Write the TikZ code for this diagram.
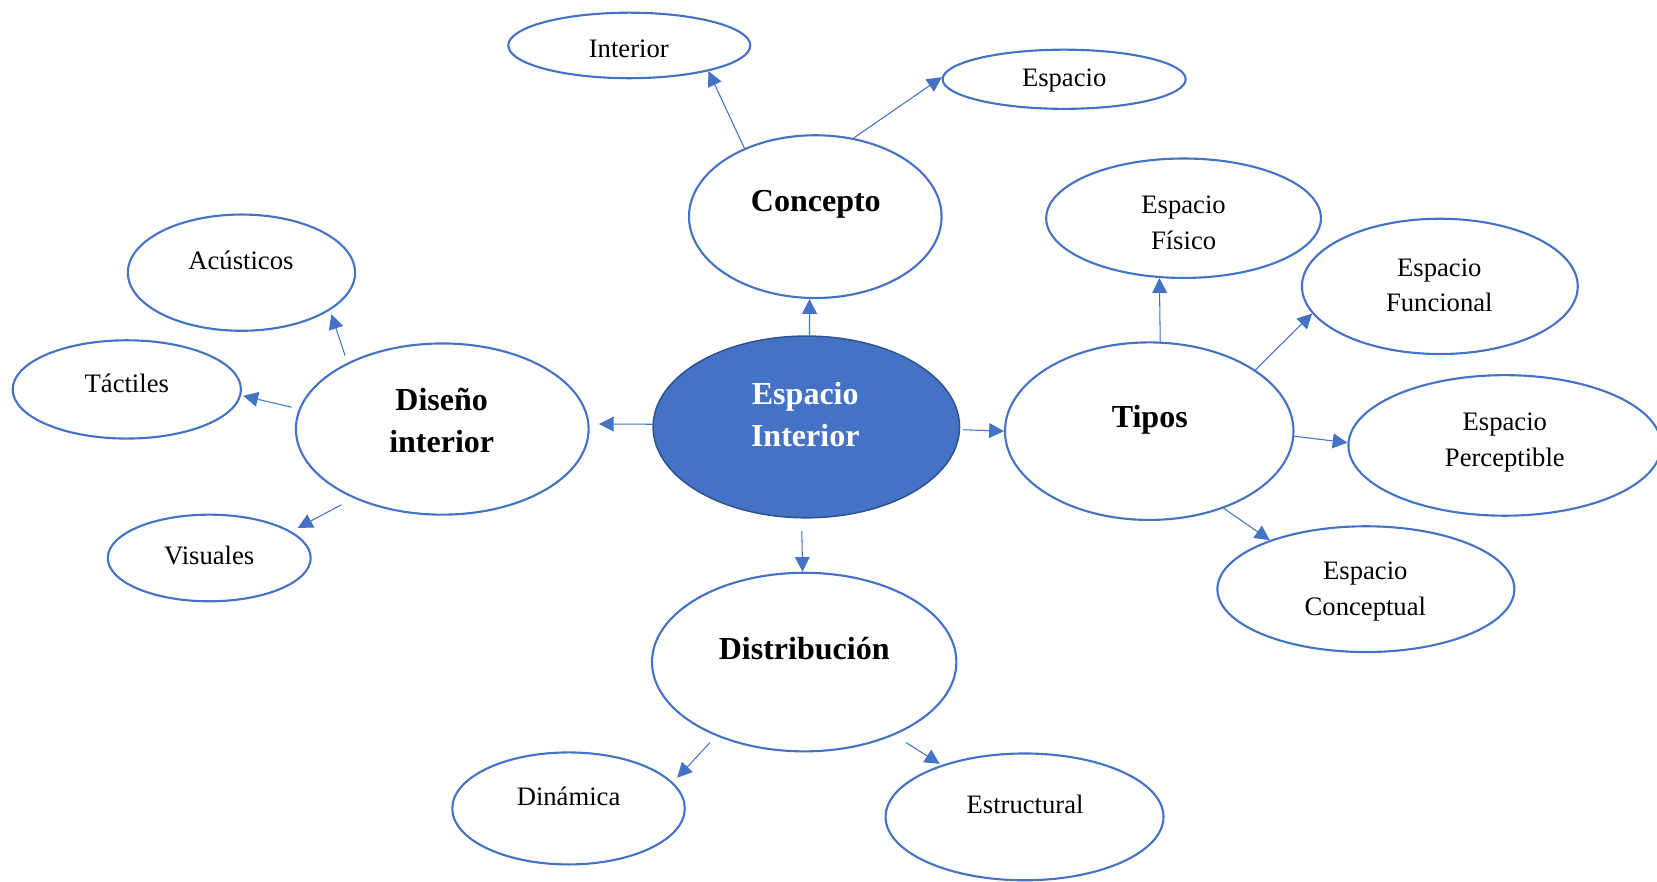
\documentclass[tikz,border=0pt]{standalone}
\usepackage{fontspec}
\setmainfont{Liberation Serif}
\usetikzlibrary{shapes.geometric,arrows.meta}
\definecolor{officeblue}{HTML}{4472C4}
\definecolor{deepblue}{HTML}{2F528F}
\begin{document}
\begin{tikzpicture}[x=1pt,y=-1pt,
  bub/.style={ellipse,draw=officeblue,line width=2pt,inner sep=0pt},
  hub/.style={ellipse,draw=deepblue,fill=officeblue,line width=1.4pt,inner sep=0pt},
  arr/.style={draw=officeblue,line width=1pt,-{Triangle[length=14pt,width=14pt]}},
  lbl/.style={align=center,font=\fontsize{25.2}{34}\selectfont},
  big/.style={align=center,font=\fontsize{30.3}{40}\selectfont\bfseries}]
\useasboundingbox (0,0) rectangle (1568,833.7);
\node[bub,minimum width=229pt,minimum height=62pt] (int) at (595.5,43) {};
\node[bub,minimum width=230pt,minimum height=56pt] (esp) at (1007,75) {};
\node[bub,minimum width=239pt,minimum height=154pt] (con) at (771.5,205) {};
\node[bub,minimum width=260pt,minimum height=113pt] (fis) at (1120,206.5) {};
\node[bub,minimum width=261pt,minimum height=128pt] (fun) at (1362.5,271) {};
\node[bub,minimum width=215pt,minimum height=110pt] (acu) at (228.5,258) {};
\node[bub,minimum width=216pt,minimum height=93pt] (tac) at (120,368.5) {};
\node[bub,minimum width=277pt,minimum height=162pt] (dis) at (418.5,406) {};
\node[hub,minimum width=290pt,minimum height=172pt] (cen) at (763,404) {};
\node[bub,minimum width=273pt,minimum height=168pt] (tip) at (1087.5,408) {};
\node[bub,minimum width=296pt,minimum height=133pt] (per) at (1424,421.5) {};
\node[bub,minimum width=192pt,minimum height=82pt] (vis) at (198,528) {};
\node[bub,minimum width=281pt,minimum height=119pt] (cpt) at (1292.5,557.5) {};
\node[bub,minimum width=288pt,minimum height=169pt] (dst) at (761,626.5) {};
\node[bub,minimum width=220pt,minimum height=106pt] (din) at (538,765) {};
\node[bub,minimum width=263pt,minimum height=120pt] (est) at (969.5,773) {};
\node[lbl] (int-t) at (595,46) {Interior};
\node[lbl] (esp-t) at (1007,76) {Espacio};
\node[big] (con-t) at (772,193) {Concepto};
\node[lbl] (fis-t) at (1120,211) {Espacio\\Físico};
\node[lbl] (fun-t) at (1362,270) {Espacio\\Funcional};
\node[lbl] (acu-t) at (228,246) {Acústicos};
\node[lbl] (tac-t) at (120,363) {Táctiles};
\node[big] (dis-t) at (418,398) {Diseño\\interior};
\node[big,text=white] (cen-t) at (762,392) {Espacio\\Interior};
\node[big] (tip-t) at (1088,397) {Tipos};
\node[lbl] (per-t) at (1424,419) {Espacio\\Perceptible};
\node[lbl] (vis-t) at (198,526) {Visuales};
\node[lbl] (cpt-t) at (1292,560) {Espacio\\Conceptual};
\node[big] (dst-t) at (761,614) {Distribución};
\node[lbl] (din-t) at (538,754) {Dinámica};
\node[lbl] (est-t) at (970,761) {Estructural};
\draw[arr] (cen.88) -- (con.266);
\draw[arr,shorten >=9pt] (cen.179) -- (dis.2);
\draw[arr,shorten <=3pt] (cen.359) -- (tip.180);
\draw[arr,shorten <=12pt] (cen.267) -- (dst.91);
\draw[arr] (con.136) -- (int.342);
\draw[arr] (con.64) -- (esp.179);
\draw[arr,shorten <=7pt,shorten >=4pt] (dis.145) -- (acu.337);
\draw[arr,shorten <=7pt,shorten >=2pt] (dis.172) -- (tac.357);
\draw[arr,shorten <=13pt,shorten >=7pt] (dis.218) -- (vis.18);
\draw[arr] (tip.83) -- (fis.248);
\draw[arr] (tip.30) -- (fun.192);
\draw[arr] (tip.358) -- (per.179);
\draw[arr] (tip.314) -- (cpt.153);
\draw[arr,shorten <=8.5pt,shorten >=6pt] (dst.220) -- (din.14);
\draw[arr,shorten <=13pt,shorten >=2pt] (dst.321) -- (est.148);
\end{tikzpicture}
\end{document}
